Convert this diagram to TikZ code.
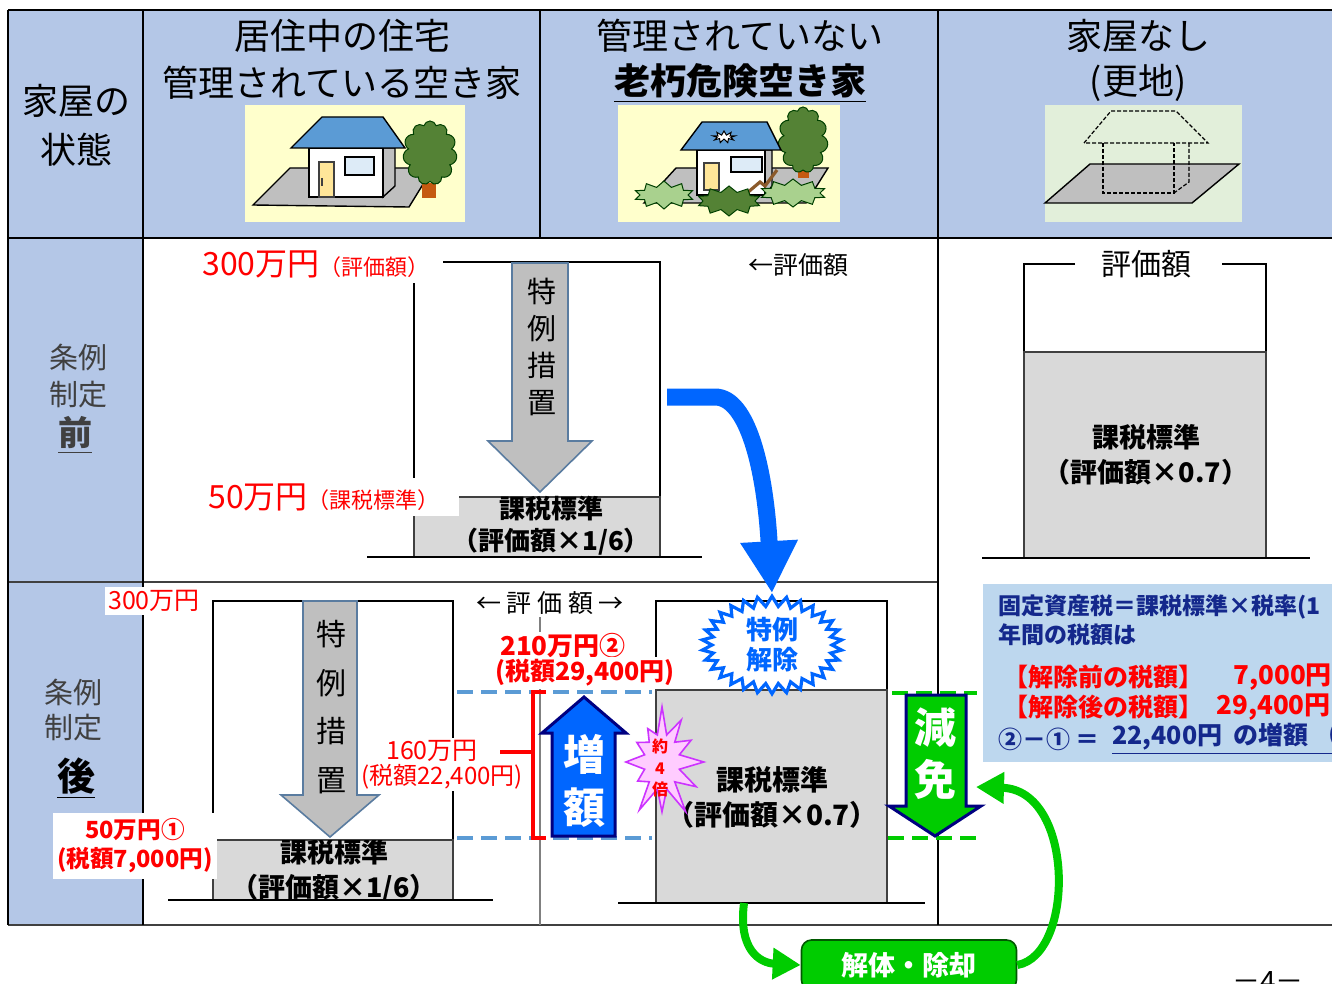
\documentclass[tikz,border=0pt]{standalone}
\usepackage{fontspec}
\setmainfont{Noto Sans CJK JP}
\usetikzlibrary{arrows.meta,shapes.symbols}
\definecolor{hdrblue}{HTML}{B4C7E7}
\definecolor{infoblue}{HTML}{BDD7EE}
\definecolor{boxgray}{HTML}{D9D9D9}
\definecolor{arrgray}{HTML}{BFBFBF}
\definecolor{arredge}{HTML}{5A7CA0}
\definecolor{brightblue}{HTML}{0066FF}
\definecolor{dashblue}{HTML}{5B9BD5}
\definecolor{brightgreen}{HTML}{00CC00}
\definecolor{navy}{HTML}{14288C}
\definecolor{darknavy}{HTML}{000080}
\definecolor{labgray}{HTML}{404040}
\definecolor{cream}{HTML}{FFFFCC}
\definecolor{palegreen}{HTML}{E2EFDA}
\definecolor{roofblue}{HTML}{5B9BD5}
\definecolor{leaf}{HTML}{548235}
\definecolor{lightleaf}{HTML}{A9D18E}
\definecolor{trunk}{HTML}{C55A11}
\definecolor{doorye}{HTML}{FFE699}
\definecolor{glass}{HTML}{DDEBF7}
\definecolor{pinkfill}{HTML}{FFCCFF}
\definecolor{violet}{HTML}{CC33FF}
\definecolor{crack}{HTML}{8B5A2B}
\newcommand{\fsz}[2]{\fontsize{#1pt}{#2pt}\selectfont}
\begin{document}
\begin{tikzpicture}[x=0.5pt,y=-0.5pt,
  every node/.style={inner sep=0pt},
  hdr/.style={font=\fsz{18}{22}},
  sidelab/.style={font=\fsz{14.5}{18}, text=labgray},
  wbg/.style={fill=white, inner sep=1.5pt},
  hair/.style={line width=0.6pt, draw=black},
  gridline/.style={line width=1pt, draw=black},
  graybox/.style={fill=boxgray, draw=labgray, line width=1pt},
  grayarrow/.style={fill=arrgray, draw=arredge, line width=0.8pt},
  boxtext/.style={align=center},
  blueband/.style={draw=brightblue, line width=8.5pt, -{Triangle[width=27pt,length=26pt]}},
  greenarr/.style={draw=brightgreen, line width=4pt, -{Triangle[width=15pt,length=14pt]}},
  bdash/.style={draw=dashblue, line width=2pt, dash pattern=on 8pt off 4pt},
  gdash/.style={draw=brightgreen, line width=2pt, dash pattern=on 8pt off 4pt},
  treecrown/.style={cloud, cloud puffs=11, cloud ignores aspect, fill=leaf, draw=green!25!black, line width=0.5pt},
  bush/.style={starburst, starburst points=10, starburst point height=3pt, random starburst=0, draw=green!25!black, line width=0.5pt},
  houseline/.style={draw=black, line width=0.7pt}]
\useasboundingbox (0,0) rectangle (1332,984);
\clip (0,0) rectangle (1332,984);
\fill[white] (0,0) rectangle (1332,984);

% ---------- table background ----------
\fill[hdrblue] (143,10) rectangle (1340,238);
\fill[hdrblue] (8,10) rectangle (143,925);

% ---------- house pictures ----------
% occupied / managed house
\fill[cream] (245,105) rectangle (465,222);
\draw[houseline, fill=arrgray] (253,205) -- (409,207) -- (433,168) -- (290,168) -- cycle;
\draw[houseline, fill=arrgray] (383,148) -- (395,148) -- (395,186) -- (383,197) -- cycle;
\draw[houseline, fill=white] (309,148) rectangle (383,197);
\draw[houseline, fill=roofblue] (291,148) -- (322,117) -- (383,117) -- (405,148) -- cycle;
\draw[draw=labgray, line width=0.6pt, fill=doorye] (319,162) rectangle (334,197);
\draw[draw=labgray, line width=0.6pt] (322,178) -- (322,186);
\draw[houseline, fill=glass] (345,157) rectangle (374,175);
\fill[trunk] (422,183) rectangle (436,198);
\node[treecrown, minimum width=27pt, minimum height=32pt] (treeA) at (430,153) {};

% neglected, dangerous house
\fill[cream] (618,105) rectangle (840,222);
\draw[houseline, fill=arrgray] (644,203) -- (676,168) -- (828,168) -- (806,203) -- cycle;
\fill[trunk] (798,165) rectangle (809,178);
\node[treecrown, minimum width=25pt, minimum height=33pt] (treeB) at (803,140) {};
\draw[houseline, fill=arrgray] (765,150) -- (772,150) -- (772,186) -- (765,195) -- cycle;
\draw[houseline, fill=white] (697,150) rectangle (765,195);
\draw[houseline, fill=roofblue] (681,150) -- (702,122) -- (767,122) -- (781,150) -- cycle;
\node[starburst, starburst points=9, starburst point height=2pt, random starburst=0, fill=white, draw=black, line width=0.5pt, minimum width=11pt, minimum height=6pt] (hole) at (724,137) {};
\draw[draw=labgray, line width=0.6pt, fill=doorye] (704,163) rectangle (719,190);
\draw[houseline, fill=glass] (731,157) rectangle (762,172);
\draw[draw=crack, line width=1.6pt] (747,193) -- (760,182) -- (765,186) -- (777,170);
\node[bush, fill=lightleaf, minimum width=30pt, minimum height=14pt] (bushA) at (664,195) {};
\node[bush, fill=lightleaf, minimum width=33pt, minimum height=14pt] (bushC) at (793,193) {};
\node[bush, fill=leaf, minimum width=32pt, minimum height=15pt] (bushB) at (729,201) {};

% vacant lot
\fill[palegreen] (1045,105) rectangle (1242,222);
\draw[houseline, fill=arrgray] (1045,203) -- (1090,164) -- (1239,164) -- (1192,203) -- cycle;
\draw[line width=0.6pt, dash pattern=on 2pt off 1pt] (1084,143) -- (1111,111) -- (1176,111) -- (1208,143) -- cycle;
\draw[line width=0.6pt, dash pattern=on 2pt off 1pt] (1103,143) -- (1103,193) -- (1174,193) -- (1174,143);
\draw[line width=0.6pt, dash pattern=on 2pt off 1pt] (1189,143) -- (1189,182) -- (1174,193);

% ---------- header texts ----------
\node[hdr] (hA1) at (76,101) {家屋の};
\node[hdr] (hA2) at (76,150) {状態};
\node[hdr] (hB1) at (342,36) {居住中の住宅};
\node[hdr] (hB2) at (342,83) {管理されている空き家};
\node[hdr] (hC1) at (740,36) {管理されていない};
\node[font=\bfseries\fsz{18}{22}] (hC2) at (740,83) {\underline{老朽危険空き家}};
\node[hdr] (hD1) at (1138,36) {家屋なし};
\node[hdr] (hD2) at (1138,83) {(更地)};

% row labels
\node[sidelab] (bf1) at (78,357) {条例};
\node[sidelab] (bf2) at (78,395) {制定};
\node[font=\bfseries\fsz{17}{20}, text=labgray] (bf3) at (75,435) {\underline{前}};
\node[sidelab] (af1) at (73,692) {条例};
\node[sidelab] (af2) at (73,728) {制定};
\node[font=\bfseries\fsz{19}{22}] (af3) at (76,778) {\underline{後}};

% ---------- row 2 : before ----------
\draw[hair] (443,262) -- (660,262) -- (660,557);
\draw[hair] (414,283) -- (414,497);
\draw[graybox] (414,497) rectangle (660,557);
\draw[grayarrow] (512,263) -- (568,263) -- (568,441) -- (592,441) -- (540,492) -- (488,441) -- (512,441) -- cycle;
\node[font=\fsz{14.5}{18.5}, align=center] (spA) at (542,347) {特\\例\\措\\置};
\fill[white] (200,478) rectangle (459,516);
\node[boxtext, font=\bfseries\fsz{13}{16}] (bx1) at (551,526) {課税標準\\（評価額×1/6）};
\draw[hair] (367,557) -- (702,557);
\node[anchor=west, text=red] (v300) at (202,264) {{\fsz{16}{19}300万円}{\fsz{11}{13}（評価額）}};
\node[anchor=west, text=red] (v50) at (208,497) {{\fsz{16}{19}50万円}{\fsz{11}{13}（課税標準）}};
\node[font=\fsz{12.5}{15}] (ev1) at (798,265) {←評価額};

% right column, no house
\draw[hair] (1075,264) -- (1024,264) -- (1024,352);
\draw[hair] (1222,264) -- (1266,264) -- (1266,352);
\node[font=\fsz{15}{18}] (ev2) at (1146,264) {評価額};
\draw[graybox] (1024,352) rectangle (1266,558);
\node[boxtext, font=\bfseries\fsz{13.5}{17.5}] (bx2) at (1146,455) {課税標準\\（評価額×0.7）};
\draw[hair] (982,558) -- (1310,558);

% ---------- table grid ----------
\draw[gridline] (8,10) -- (1340,10);
\draw[gridline] (8,238) -- (1340,238);
\draw[gridline, draw=labgray] (8,582) -- (938,582);
\draw[gridline, draw=labgray] (8,925) -- (1340,925);
\draw[gridline] (8,10) -- (8,925);
\draw[gridline] (143,10) -- (143,925);
\draw[gridline] (540,10) -- (540,238);
\draw[gridline] (938,10) -- (938,925);
\draw[line width=0.6pt, draw=gray] (540,615) -- (540,925);

% ---------- row 3 : after ----------
\draw[hair] (213,840) -- (213,601) -- (453,601) -- (453,840);
\draw[graybox] (213,840) rectangle (453,900);
\begin{scope}
  \clip (213,840) rectangle (453,900);
  \node[boxtext, font=\bfseries\fsz{13.5}{17.5}] (bx3) at (334,871) {課税標準\\（評価額×1/6）};
\end{scope}
\draw[hair] (168,900) -- (493,900);
\draw[grayarrow] (303,601) -- (357,601) -- (357,795) -- (379,795) -- (330,837) -- (281,795) -- (303,795) -- cycle;
\node[font=\fsz{15}{24.2}, align=center] (spB) at (331,707) {特\\例\\措\\置};
\node[wbg, text=red, font=\fsz{12.5}{15}] (a300) at (154,601) {300万円};
\node[fill=white, inner xsep=2pt, inner ysep=3pt, text=red, font=\bfseries\fsz{11.8}{14.5}, align=center] (a50) at (135,846) {50万円①\\(税額7,000円)};

% right part of row 3
\draw[hair] (656,690) -- (656,601) -- (887,601) -- (887,690);
\draw[graybox] (656,690) rectangle (887,903);
\node[boxtext, font=\bfseries\fsz{14}{17.5}] (bx4) at (772,797) {課税標準\\（評価額×0.7）};
\draw[hair] (618,903) -- (925,903);

\draw[bdash] (457,692) -- (652,692);
\draw[bdash] (457,838) -- (652,838);
\draw[gdash] (892,693) -- (977,693);
\draw[gdash] (888,838) -- (977,838);

\node[fill=white, inner sep=1pt, text=red, font=\fsz{12.5}{15}] (a160) at (432,751) {160万円};
\node[fill=white, inner sep=1pt, text=red, font=\fsz{12}{14}] (a160t) at (442,777) {(税額22,400円)};
\draw[red, line width=1.6pt] (546,692) -- (533,692) -- (533,838) -- (546,838);
\draw[red, line width=1.6pt] (500,752) -- (533,752);

\node[fill=white, inner sep=1pt, font=\fsz{12.5}{15}] (ev3) at (550,603) {←\ 評\ 価\ 額\ →};
\node[fill=white, inner sep=1pt, text=red, font=\bfseries\fsz{13}{15}] (a210) at (563,646) {210万円②};
\node[fill=white, inner sep=1pt, text=red, font=\bfseries\fsz{12.5}{15}] (a210t) at (585,673) {(税額29,400円)};

% increase arrow
\draw[fill=brightblue, draw=darknavy, line width=1.5pt] (552,836) -- (552,733) -- (542,733) -- (584,697) -- (626,733) -- (615,733) -- (615,836) -- cycle;
\node[text=white, font=\bfseries\fsz{21}{26.5}, align=center] (up) at (584,781) {増\\額};

% about four times
\node[starburst, starburst points=12, starburst point height=15pt, random starburst=7, fill=pinkfill, draw=violet, line width=0.8pt, minimum width=48pt, minimum height=58pt] (x4) at (662,762) {};
\node[text=red, font=\bfseries\fsz{8}{10.8}, align=center] (x4t) at (660,768) {約\\4\\倍};

% reduction arrow
\draw[fill=brightgreen, draw=darknavy, line width=1.5pt] (906,695) -- (966,695) -- (966,806) -- (981,806) -- (935,836) -- (889,806) -- (906,806) -- cycle;
\node[text=white, font=\bfseries\fsz{21}{26}, align=center] (dn) at (935,754) {減\\免};

% special measure lifted
\node[starburst, starburst points=30, starburst point height=5pt, random starburst=0, fill=white, draw=brightblue, line width=1.6pt, minimum width=70pt, minimum height=41pt, text=brightblue, font=\bfseries\fsz{13}{15}, align=center] (tk) at (772,645) {特例\\解除};

\coordinate (bA) at (667,397);
\draw[blueband] (bA) -- (715,397) .. controls (748,397) and (765,470) .. (tk.north);

% demolition box and green arrows
\node[fill=brightgreen, draw=green!35!black, line width=0.8pt, rounded corners=5pt, minimum width=107.5pt, minimum height=25pt, text=white, font=\bfseries\fsz{13.5}{16}] (demo) at (909,965) {解体・除却};
\coordinate (gA) at (744,903);
\draw[greenarr] (gA) .. controls (738,950) and (760,963) .. (demo.west);
\coordinate (gD) at (976,787);
\draw[greenarr] (demo.east) .. controls (1075,955) and (1075,790) .. (gD);

% ---------- information box ----------
\fill[infoblue] (983,584) rectangle (1340,762);
\node[anchor=west, text=navy, font=\bfseries\fsz{11.5}{14}] (i1) at (998,607) {固定資産税＝課税標準×税率(1};
\node[anchor=west, text=navy, font=\bfseries\fsz{11.5}{14}] (i2) at (998,635) {年間の税額は};
\node[anchor=west, text=red, font=\bfseries\fsz{12.5}{15}] (i3a) at (1003,677) {【解除前の税額】};
\node[anchor=west, text=red, font=\bfseries\fsz{13}{15}] (i3b) at (1233,677) {7,000円};
\node[anchor=west, text=red, font=\bfseries\fsz{12.5}{15}] (i4a) at (1003,707) {【解除後の税額】};
\node[anchor=west, text=red, font=\bfseries\fsz{13}{15}] (i4b) at (1216,707) {29,400円};
\node[anchor=west, text=navy, font=\bfseries\fsz{12}{15}] (i5a) at (998,739) {②－①\ ＝};
\node[anchor=west, text=navy, font=\bfseries\fsz{12.5}{15}] (i5b) at (1112,739) {\underline{22,400円\ \ の増額\ （}};

% page number
\node[font=\fsz{14}{16}] (pg) at (1268,982) {－4－};
\end{tikzpicture}
\end{document}
